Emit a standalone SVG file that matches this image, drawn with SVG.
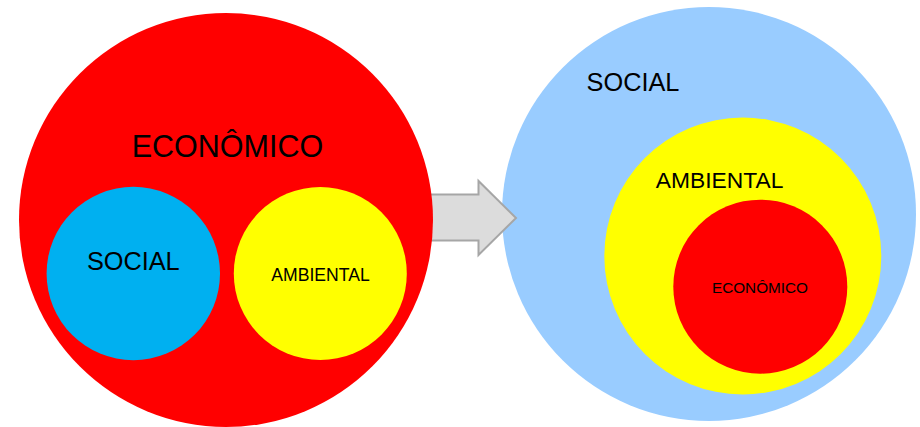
<svg xmlns="http://www.w3.org/2000/svg" width="920" height="427" viewBox="0 0 920 427">
<style>
text { font-family: "Liberation Sans", Arial, sans-serif; fill: #000; text-anchor: middle; }
.red { fill: #ff0000; }
.blue { fill: #00b0f0; }
.yellow { fill: #ffff00; }
.lblue { fill: #99ccff; }
.arrow { fill: #dcdcdc; stroke: #a6a6a6; stroke-width: 2; stroke-linejoin: miter; }
</style>
<rect width="920" height="427" fill="#ffffff"/>
<g id="right-social">
  <circle class="lblue" cx="709" cy="214" r="207"/>
  <text x="633" y="91" font-size="25.3">SOCIAL</text>
</g>
<g id="right-ambiental">
  <circle class="yellow" cx="742.8" cy="256" r="138.5"/>
  <text x="719.6" y="188" font-size="22.8">AMBIENTAL</text>
</g>
<g id="right-economico">
  <circle class="red" cx="760.3" cy="286.7" r="87"/>
  <text x="760" y="293.2" font-size="15.3">ECONÔMICO</text>
</g>
<g id="connectors">
  <polygon class="arrow" points="426,194.5 478.5,194.5 478.5,181 516,218 478.5,255 478.5,240.5 426,240.5"/>
</g>
<g id="left-economico">
  <circle class="red" cx="226" cy="220" r="207"/>
  <text x="227.5" y="157" font-size="30.5">ECONÔMICO</text>
</g>
<g id="left-social">
  <circle class="blue" cx="133.3" cy="273.5" r="86.7"/>
  <text x="133.3" y="269.5" font-size="25.3">SOCIAL</text>
</g>
<g id="left-ambiental">
  <circle class="yellow" cx="320.3" cy="273.5" r="86.5"/>
  <text x="320.5" y="281" font-size="17.6">AMBIENTAL</text>
</g>
</svg>
